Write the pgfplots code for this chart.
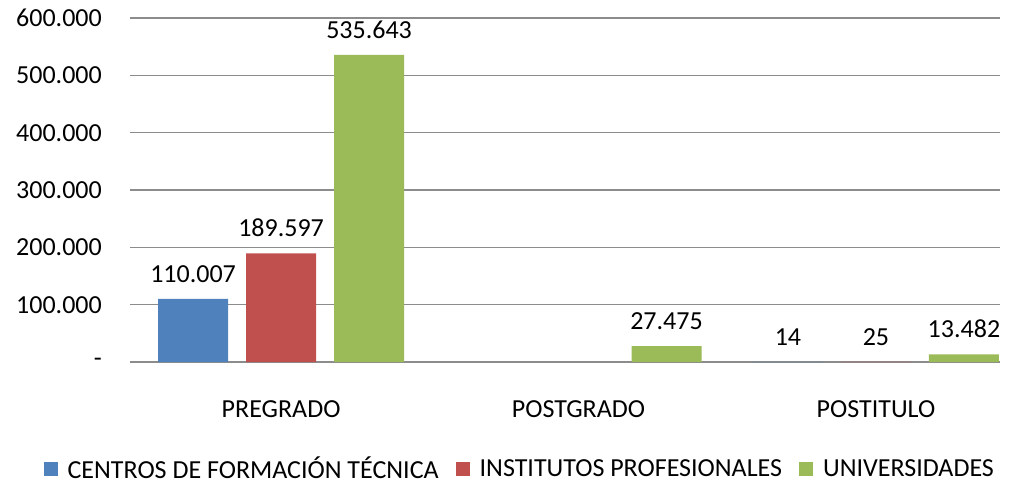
\documentclass[border=0pt]{standalone}
\usepackage{pgfplots}
\pgfplotsset{compat=1.18}
\usepackage{fontspec}
\setmainfont{Carlito}

\definecolor{cftblue}{HTML}{4F81BD}
\definecolor{ipred}{HTML}{C0504D}
\definecolor{ugreen}{HTML}{9BBB59}
\definecolor{gridgray}{HTML}{8C8C8C}

\begin{document}
\begin{tikzpicture}
\useasboundingbox (-130pt,-123pt) rectangle (883pt,362pt);
\begin{axis}[
    scale only axis,
    width=870pt, height=344pt,
    ybar=18pt, bar width=70pt,
    xmin=-0.508, xmax=2.417,
    ymin=0, ymax=600000,
    xtick={0,1,2},
    xticklabels={PREGRADO,POSTGRADO,POSTITULO},
    ytick={0,100000,...,600000},
    scaled y ticks=false,
    yticklabels={{-\hspace{17pt}},100.000,200.000,300.000,400.000,500.000,600.000},
    axis line style={draw=none},
    major tick length=0pt,
    ymajorgrids,
    grid style={gridgray, line width=1.4pt},
    font=\fontsize{26}{31}\selectfont,
    y tick label style={anchor=east, inner sep=0pt, xshift=-28pt},
    x tick label style={anchor=north, inner sep=0pt, yshift=-38pt},
    /pgf/number format/.cd, fixed, precision=0, 1000 sep={.}, assume math mode=true,
    /pgfplots/.cd,
    nodes near coords,
    every node near coord/.append style={font=\fontsize{26}{31}\selectfont, yshift=13pt},
    legend columns=3,
    legend style={at={(0.448,-0.31)}, anchor=center, draw=none, fill=none,
        font=\fontsize{26}{31}\selectfont, inner sep=0pt,
        /tikz/every even column/.append style={column sep=15pt}},
    legend image code/.code={\fill[#1] (0pt,-7pt) rectangle (14pt,7pt); \path (22pt,0pt);},
]
\addplot[fill=cftblue, draw=none] coordinates {(0,110007) (2,14)};
\addplot[fill=ipred, draw=none] coordinates {(0,189597) (2,25)};
\addplot[fill=ugreen, draw=none] coordinates {(0,535643) (1,27475) (2,13482)};
\legend{CENTROS DE FORMACIÓN TÉCNICA, INSTITUTOS PROFESIONALES, UNIVERSIDADES}
\end{axis}
\end{tikzpicture}
\end{document}
